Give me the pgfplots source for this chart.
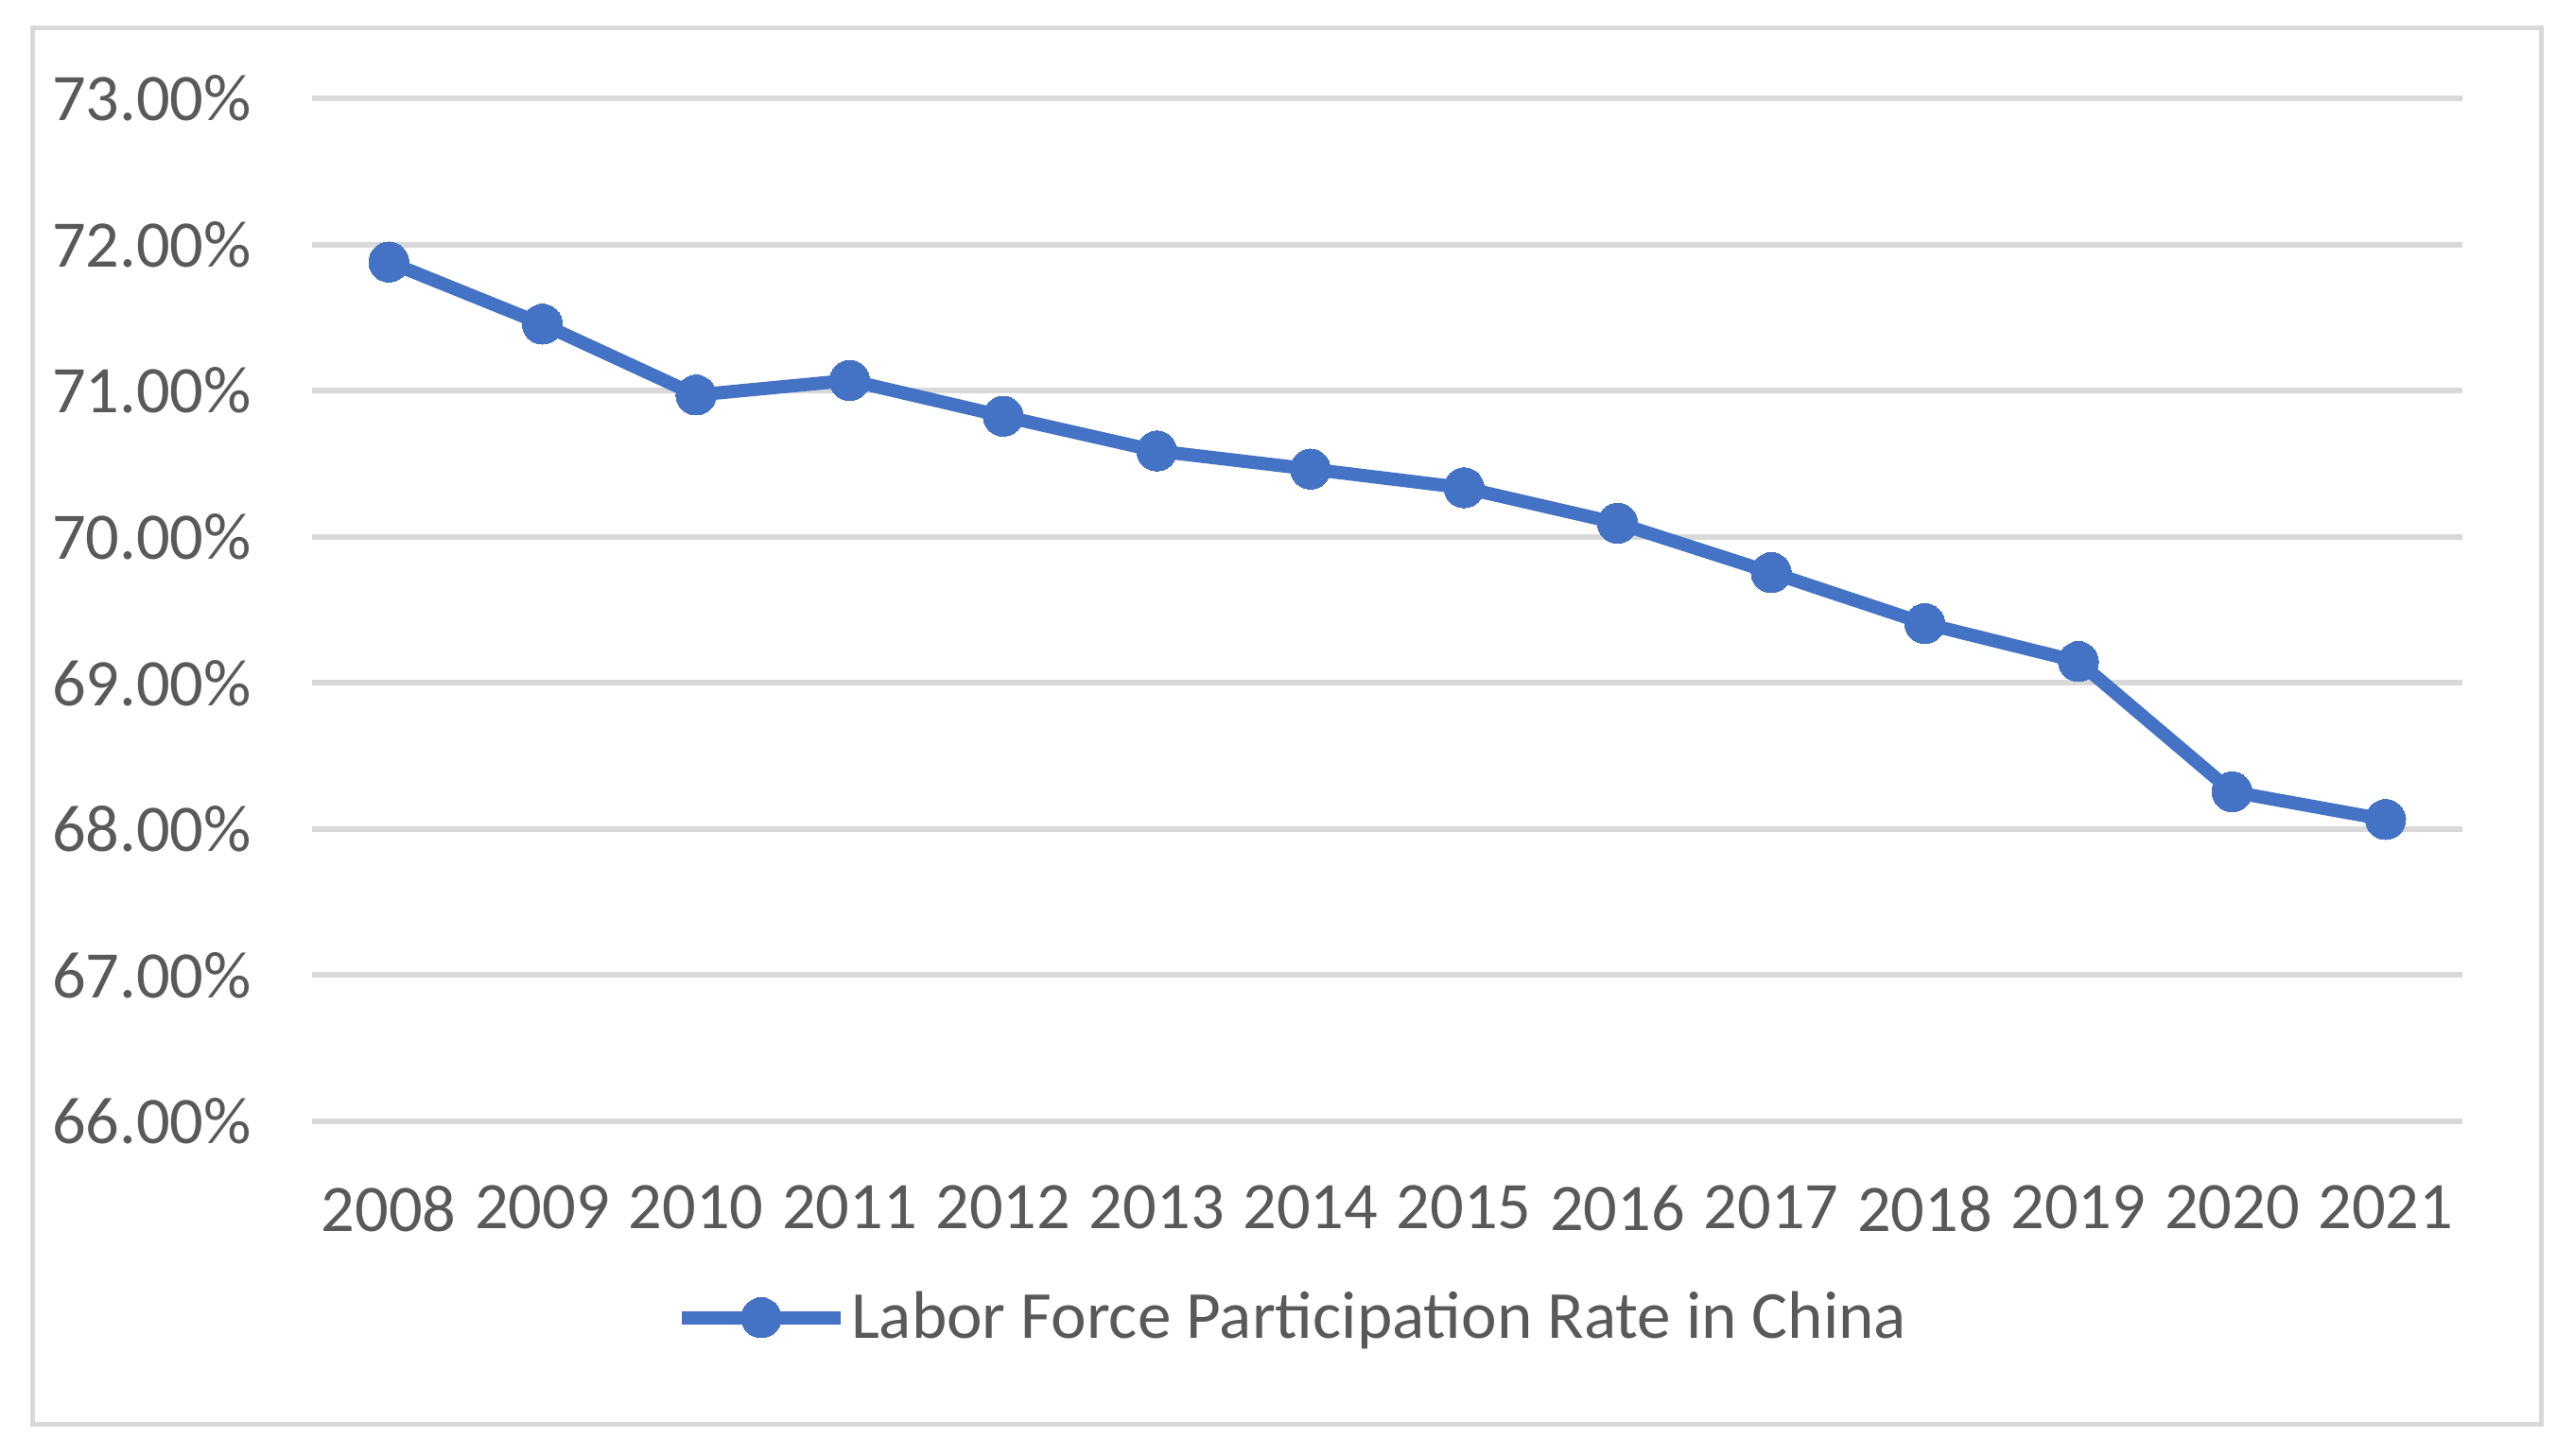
\documentclass[border=0pt]{standalone}
\usepackage{fontspec}
\setmainfont{Carlito}
\usepackage{pgfplots}
\pgfplotsset{compat=1.18}
\definecolor{lineblue}{HTML}{4472C4}
\definecolor{gridgray}{HTML}{D9D9D9}
\definecolor{txtgray}{HTML}{595959}
\begin{document}
\begin{tikzpicture}
\useasboundingbox (-82.5pt,-88.5pt) rectangle (598pt,296.5pt);
\draw[gridgray, line width=1.25pt] (-73.75pt,-80.25pt) rectangle (589.25pt,289pt);
\begin{axis}[
  at={(0,0)}, anchor=south west,
  scale only axis,
  width=568.5pt, height=270.5pt,
  xmin=-0.5, xmax=13.5,
  ymin=66, ymax=73,
  axis line style={draw=none},
  xtick={0,...,13},
  xticklabels={2008,2009,2010,2011,2012,2013,2014,2015,2016,2017,2018,2019,2020,2021},
  ytick={66,67,68,69,70,71,72,73},
  yticklabels={66.00\%,67.00\%,68.00\%,69.00\%,70.00\%,71.00\%,72.00\%,73.00\%},
  tick style={draw=none},
  ymajorgrids,
  grid style={gridgray, line width=1.5pt},
  ticklabel style={font=\fontsize{17.6}{20}\selectfont, text=txtgray},
  yticklabel style={xshift=-12.5pt},
  xticklabel style={yshift=-13.5pt},
  legend style={at={(0.457,-0.192)}, anchor=center, draw=none, fill=none,
    font=\fontsize{17.8}{20}\selectfont, text=txtgray, inner sep=0pt,
    /tikz/every odd column/.append style={column sep=-1pt}},
  legend image code/.code={\draw[mark repeat=2,mark phase=2] plot coordinates {(0pt,0pt) (21pt,0pt) (42pt,0pt)};},
]
\addplot[color=lineblue, line width=3.5pt, mark=*, mark size=5.3pt,
  mark options={fill=lineblue, draw=lineblue, line width=0pt}]
coordinates {
(0,71.88) (1,71.455) (2,70.97) (3,71.07) (4,70.825) (5,70.587) (6,70.463)
(7,70.335) (8,70.093) (9,69.755) (10,69.406) (11,69.146) (12,68.255) (13,68.065)
};
\addlegendentry{Labor Force Participation Rate in China}
\end{axis}
\end{tikzpicture}
\end{document}
